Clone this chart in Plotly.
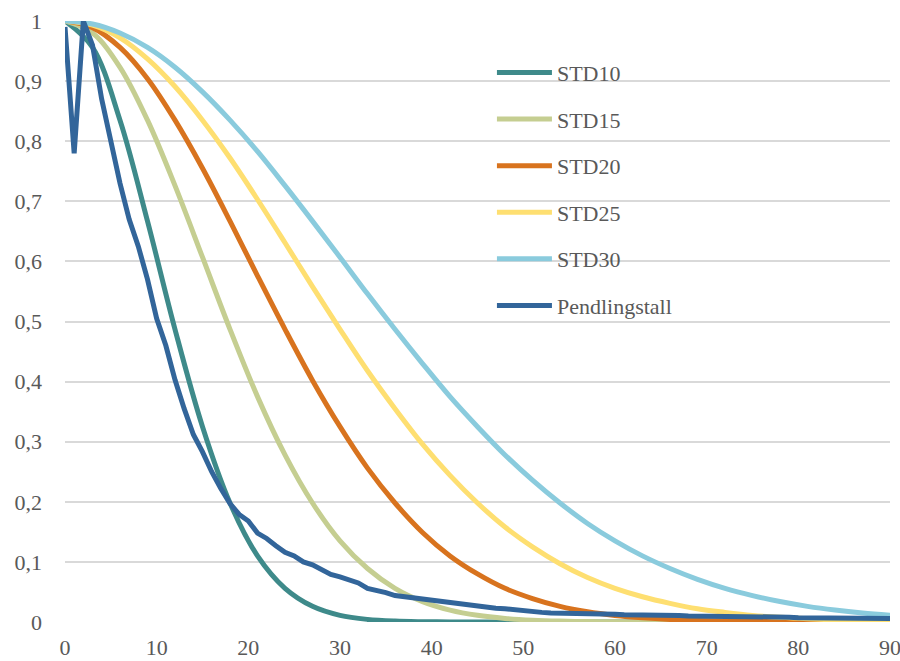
import plotly.graph_objects as go

# x positions for the smooth curves
x_smooth = [0, 3, 6, 9, 12, 15, 18, 21, 24, 27, 30, 33, 36, 39, 42, 45, 48, 51,
            54, 57, 60, 63, 66, 69, 72, 75, 78, 81, 84, 87, 90]

std10 = [1.0, 0.956, 0.835, 0.667, 0.487, 0.325, 0.198, 0.110, 0.056, 0.026, 0.011,
         0.0043, 0.0015, 0.0005, 0.00015, 0.00004, 0.0, 0.0, 0.0, 0.0, 0.0, 0.0,
         0.0, 0.0, 0.0, 0.0, 0.0, 0.0, 0.0, 0.0, 0.0]
std15 = [1.0, 0.980, 0.923, 0.835, 0.726, 0.607, 0.487, 0.375, 0.278, 0.198, 0.135,
         0.089, 0.056, 0.034, 0.0198, 0.0111, 0.0060, 0.0031, 0.0015, 0.0007, 0.0003,
         0.00015, 0.0001, 0.0, 0.0, 0.0, 0.0, 0.0, 0.0, 0.0, 0.0]
std20 = [1.0, 0.989, 0.956, 0.904, 0.835, 0.755, 0.667, 0.576, 0.487, 0.402, 0.325,
         0.256, 0.198, 0.149, 0.110, 0.080, 0.056, 0.039, 0.026, 0.017, 0.011,
         0.0070, 0.0043, 0.0026, 0.0015, 0.0009, 0.0005, 0.0003, 0.00015, 0.0001, 0.00004]
std25 = [1.0, 0.993, 0.972, 0.937, 0.891, 0.835, 0.772, 0.703, 0.631, 0.558, 0.487,
         0.418, 0.355, 0.296, 0.244, 0.198, 0.158, 0.125, 0.097, 0.074, 0.056,
         0.042, 0.031, 0.022, 0.016, 0.011, 0.0077, 0.0053, 0.0035, 0.0023, 0.0015]
std30 = [1.0, 0.995, 0.980, 0.956, 0.923, 0.882, 0.835, 0.783, 0.726, 0.667, 0.607,
         0.546, 0.487, 0.430, 0.375, 0.325, 0.278, 0.236, 0.198, 0.164, 0.135,
         0.110, 0.089, 0.071, 0.056, 0.044, 0.034, 0.026, 0.0198, 0.0149, 0.0111]

x_pend = list(range(0, 91))
pendling = [0.99, 0.78, 1.0, 0.96, 0.87, 0.80, 0.73, 0.67, 0.625, 0.57,
            0.505, 0.46, 0.403, 0.355, 0.312, 0.283, 0.25, 0.222, 0.197, 0.179,
            0.168, 0.148, 0.139, 0.127, 0.116, 0.11, 0.10, 0.095, 0.087, 0.079,
            0.075, 0.07, 0.065, 0.056, 0.053, 0.049, 0.044, 0.042, 0.04, 0.037,
            0.035, 0.033, 0.031, 0.03, 0.028, 0.027, 0.025, 0.023, 0.022, 0.02,
            0.019, 0.018, 0.016, 0.015, 0.015, 0.014, 0.014, 0.013, 0.013, 0.013,
            0.013, 0.012, 0.012, 0.013, 0.012, 0.011, 0.011, 0.011, 0.01, 0.01,
            0.01, 0.01, 0.009, 0.009, 0.009, 0.008, 0.008, 0.008, 0.008, 0.008,
            0.007, 0.007, 0.007, 0.007, 0.006, 0.006, 0.006, 0.006, 0.006, 0.006,
            0.006]

y_tickvals = [0, 0.1, 0.2, 0.3, 0.4, 0.5, 0.6, 0.7, 0.8, 0.9, 1]
y_ticktext = ["0", "0,1", "0,2", "0,3", "0,4", "0,5", "0,6", "0,7", "0,8", "0,9", "1"]
x_tickvals = [0, 10, 20, 30, 40, 50, 60, 70, 80, 90]

names = ["STD10", "STD15", "STD20", "STD25", "STD30"]
colors = ["#3E8A8A", "#C5CE91", "#D8731E", "#FEDF71", "#8ACBDD"]
series = [std10, std15, std20, std25, std30]
pend_color = "#32659A"

font_family = "Liberation Serif"
text_color = "#595959"

fig = go.Figure()
for n, c, s in zip(names, colors, series):
    fig.add_trace(go.Scatter(x=x_smooth, y=s, mode="lines", name=n,
                             legendgroup=n,
                             line=dict(color=c, width=5, shape="spline", smoothing=1.0)))
fig.add_trace(go.Scatter(x=x_pend, y=pendling, mode="lines", name="Pendlingstall",
                         legendgroup="pend",
                         line=dict(color=pend_color, width=5)))

fig.update_layout(
    width=900, height=661,
    margin=dict(l=65, r=10, t=21, b=39),
    paper_bgcolor="white", plot_bgcolor="white",
    font=dict(family=font_family, size=22, color=text_color),
    showlegend=True,
    legend=dict(x=0.5175, y=0.949, xanchor="left", yanchor="top",
                bgcolor="rgba(0,0,0,0)", tracegroupgap=15,
                font=dict(family=font_family, size=22, color=text_color),
                itemwidth=55),
    xaxis=dict(range=[0, 90], tickvals=x_tickvals,
               showgrid=False, zeroline=False, showline=False, ticks="",
               ticklen=0, automargin=False, ticklabelstandoff=10,
               ticklabeloverflow="allow",
               tickfont=dict(family=font_family, size=22, color=text_color)),
    yaxis=dict(range=[0, 1], tickvals=y_tickvals, ticktext=y_ticktext,
               showgrid=True, gridcolor="#D9D9D9", gridwidth=1.5,
               zeroline=False, showline=False, ticks="", ticklabelstandoff=22,
               automargin=False, ticklabeloverflow="allow",
               tickfont=dict(family=font_family, size=22, color=text_color)),
)

fig.write_html("out.html", config={"displayModeBar": False},
               post_script="document.body.style.margin='0';document.body.style.overflow='hidden';")
